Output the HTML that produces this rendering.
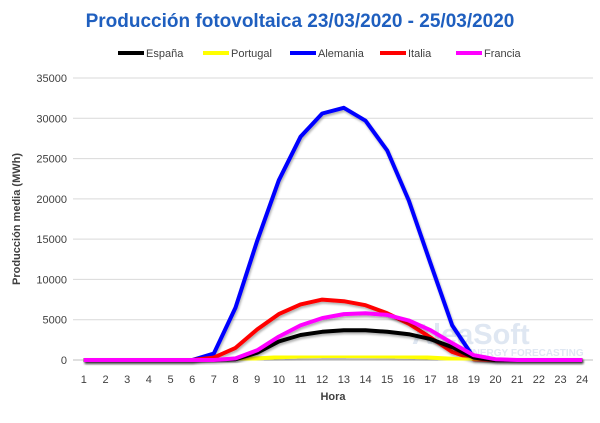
<!DOCTYPE html>
<html><head><meta charset="utf-8"><style>
body{margin:0;background:#fff;font-family:"Liberation Sans",sans-serif}
svg text{font-family:"Liberation Sans",sans-serif}
</style></head><body>
<svg id="c" width="600" height="418">
<defs><filter id="sh" x="-10%" y="-10%" width="120%" height="120%"><feDropShadow dx="1" dy="2" stdDeviation="1" flood-color="#000" flood-opacity="0.3"/></filter></defs>
<text x="300" y="27" text-anchor="middle" font-size="19" font-weight="bold" fill="#1f5fbf">Producción fotovoltaica 23/03/2020 - 25/03/2020</text>
<g id="legend"></g>
<g id="grid"></g>
<text x="412" y="344" font-size="29" font-weight="bold" fill="#dfe7f2">AleaSoft</text>
<text x="466" y="356" font-size="10" font-weight="bold" fill="#dfe7f2">ENERGY FORECASTING</text>
<g id="series"></g>
<text transform="translate(20,219) rotate(-90)" text-anchor="middle" font-size="11" font-weight="bold" fill="#404040">Producción media (MWh)</text>
<text x="333" y="400" text-anchor="middle" font-size="11" font-weight="bold" fill="#404040">Hora</text>
</svg>
<script>
const hours=[1,2,3,4,5,6,7,8,9,10,11,12,13,14,15,16,17,18,19,20,21,22,23,24];
const yTicks=[0,5000,10000,15000,20000,25000,30000,35000];
const seriesNames=["España","Portugal","Alemania","Italia","Francia"];
const seriesColors=["#000000","#ffff00","#0000ff","#ff0000","#ff00ff"];
const espana=[0,0,0,0,0,0,0,100,900,2300,3100,3500,3700,3700,3500,3200,2600,1600,300,0,0,0,0,0];
const portugal=[0,0,0,0,0,0,0,50,200,350,450,500,500,480,450,400,300,150,0,0,0,0,0,0];
const alemania=[0,0,0,0,0,0,800,6500,14800,22300,27700,30600,31300,29700,26000,19800,12000,4300,300,0,0,0,0,0];
const italia=[0,0,0,0,0,0,300,1500,3800,5700,6900,7500,7300,6800,5800,4500,2800,1000,100,0,0,0,0,0];
const francia=[0,0,0,0,0,0,0,200,1200,2900,4300,5200,5700,5800,5600,4900,3700,2100,600,100,0,0,0,0];
const allSeries=[espana,portugal,alemania,italia,francia];
const NS="http://www.w3.org/2000/svg";
const X0=73,X1=593,Y0=360,Y1=78,YMAX=35000;
const step=(X1-X0)/hours.length;
const xs=h=>X0+step*(h-0.5);
const ys=v=>Y0-(v/YMAX)*(Y0-Y1);
function mk(tag,attrs,parent,text){const e=document.createElementNS(NS,tag);for(const k in attrs)e.setAttribute(k,attrs[k]);if(text!==undefined)e.textContent=text;parent.appendChild(e);return e;}
const grid=document.getElementById('grid');
yTicks.forEach(t=>{
 const l=mk('line',{x1:X0,x2:X1,y1:ys(t),y2:ys(t),stroke:t===0?'#bfbfbf':'#d9d9d9','stroke-width':1},grid);
 
 
 const tx=mk('text',{x:X0-6,y:ys(t)+4,'text-anchor':'end','font-size':11,fill:'#404040'},grid,String(t));
 
 
});
hours.forEach(h=>{
 const tx=mk('text',{x:xs(h),y:383,'text-anchor':'middle','font-size':11,fill:'#404040'},grid,String(h));
 
 
});
const sg=document.getElementById('series');
[2,3,1,0,4].forEach(i=>{
 const d=allSeries[i].map((v,j)=>(j?'L':'M')+xs(hours[j]).toFixed(1)+','+ys(v).toFixed(1)).join(' ');
 const p=mk('path',{d:d,fill:'none',stroke:seriesColors[i],'stroke-width':4,'stroke-linejoin':'round',filter:'url(#sh)'},sg);
 
 
});
const lg=document.getElementById('legend');
const lx=[118,203,290,380,456];
seriesNames.forEach((n,i)=>{
 const g=mk('g',{},lg);
 
 
 mk('line',{x1:lx[i],x2:lx[i]+26,y1:53,y2:53,stroke:seriesColors[i],'stroke-width':4},g);
 mk('text',{x:lx[i]+28,y:57,'font-size':11,fill:'#404040'},g,n);
});
</script>
</body></html>
